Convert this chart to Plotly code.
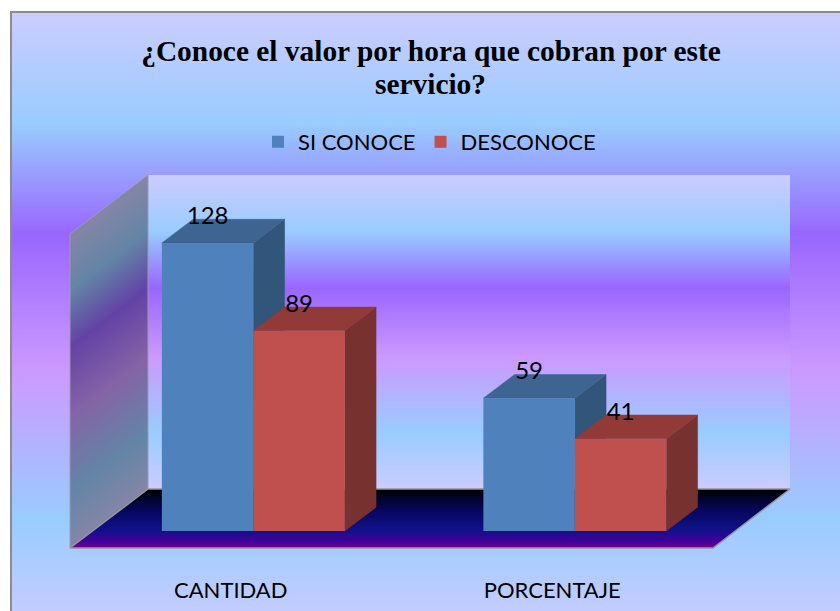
import numpy as np
import plotly.graph_objects as go

# ---------------------------------------------------------------------
# Data
# ---------------------------------------------------------------------
categories = ["CANTIDAD", "PORCENTAJE"]
si_conoce = [128, 59]
desconoce = [89, 41]
series_names = ["SI CONOCE", "DESCONOCE"]
title_lines = ["¿Conoce el valor por hora que cobran por este", "servicio?"]

front_colors = ["#4F81BD", "#C0504D"]
top_colors = ["#3E6591", "#913A37"]
side_colors = ["#32557A", "#773230"]

WIDTH, HEIGHT = 840, 611


# page pixels to axis units: one category = 321.5 px, one count = 2.25 px
def X(px):
    return (px - 230.75) / 321.5


def Y(py):
    return (548 - py) / 2.25


# oblique projection of the 3d box
DEPTH_X = X(148) - X(70)
DEPTH_Y = Y(489) - Y(548)
BAR_NEAR = 0.29
BAR_FAR = 0.69
BAR_W = 0.2846
LABEL_LIFT = 11.0

wall_scale = [
    [0.00, "#CCCCFF"],
    [0.18, "#99CCFF"],
    [0.36, "#9966FF"],
    [0.58, "#CC99FF"],
    [0.82, "#99CCFF"],
    [1.00, "#CCCCFF"],
]
shaded_scale = [
    [0.00, "#8585A6"],
    [0.18, "#6385A6"],
    [0.36, "#6342A6"],
    [0.58, "#8563A6"],
    [0.82, "#6385A6"],
    [1.00, "#8585A6"],
]
floor_scale = [
    [0.00, "#000000"],
    [0.35, "#06065C"],
    [0.70, "#10108C"],
    [0.90, "#460099"],
    [1.00, "#7A0090"],
]


def band(px_left, px_right, py_top, py_bottom, scale):
    edges = np.arange(py_top, py_bottom + 1)
    t = (edges[:-1] + 0.5 - py_top) / (py_bottom - py_top)
    return go.Heatmap(
        x=[X(px_left), X(px_right)],
        y=Y(edges),
        z=t.reshape(-1, 1),
        zmin=0,
        zmax=1,
        colorscale=scale,
        showscale=False,
        hoverinfo="skip",
    )


fig = go.Figure()

# chart area and back wall
fig.add_trace(band(10, 840, 12, 630, wall_scale))
fig.add_trace(band(148, 790, 175, 489, wall_scale))

# left wall, same gradient sheared along the depth direction
col_edges = np.arange(70, 149)
row_edges = np.arange(175, 549)
col_mid = col_edges[:-1] + 0.5
row_mid = row_edges[:-1] + 0.5
wall_top = 234 - (col_mid - 70) * 59 / 78
cols, rows = np.meshgrid(col_mid, row_mid)
wall_t = (rows - wall_top[None, :]) / 314
wall_t[(wall_t < 0) | (wall_t > 1)] = np.nan
fig.add_trace(
    go.Heatmap(
        x=X(col_edges),
        y=Y(row_edges),
        z=wall_t,
        zmin=0,
        zmax=1,
        colorscale=shaded_scale,
        showscale=False,
        hoverinfo="skip",
    )
)
fig.add_trace(
    go.Scatter(
        x=[X(70), X(148), X(148), X(70), X(70)],
        y=[Y(234), Y(175), Y(489), Y(548), Y(234)],
        mode="lines",
        line=dict(color="#9A9AB4", width=1),
        hoverinfo="skip",
        showlegend=False,
    )
)

# floor
fig.add_trace(
    go.Scatter(
        x=[X(148), X(790), X(713), X(70), X(148)],
        y=[Y(489), Y(489), Y(548), Y(548), Y(489)],
        mode="lines",
        line=dict(color="#959595", width=1.5),
        fill="toself",
        fillgradient=dict(
            type="vertical",
            colorscale=floor_scale,
            start=Y(489),
            stop=Y(548),
        ),
        hoverinfo="skip",
        showlegend=False,
    )
)

# top and side faces of the bars, blue first so red covers it
for j, values in enumerate([si_conoce, desconoce]):
    for i, value in enumerate(values):
        left = i + BAR_NEAR * DEPTH_X + (j - 1) * BAR_W
        right = left + BAR_W
        base = BAR_NEAR * DEPTH_Y
        top = base + value
        dx = (BAR_FAR - BAR_NEAR) * DEPTH_X
        dy = (BAR_FAR - BAR_NEAR) * DEPTH_Y
        fig.add_trace(
            go.Scatter(
                x=[right, right + dx, right + dx, right, right],
                y=[base, base + dy, top + dy, top, base],
                mode="lines",
                line=dict(color=side_colors[j], width=0.5),
                fill="toself",
                fillcolor=side_colors[j],
                hoverinfo="skip",
                showlegend=False,
            )
        )
        fig.add_trace(
            go.Scatter(
                x=[left, right, right + dx, left + dx, left],
                y=[top, top, top + dy, top + dy, top],
                mode="lines",
                line=dict(color=top_colors[j], width=0.5),
                fill="toself",
                fillcolor=top_colors[j],
                hoverinfo="skip",
                showlegend=False,
            )
        )

# front faces on an overlaid pair of axes so they sit above the faces
for j, values in enumerate([si_conoce, desconoce]):
    fig.add_trace(
        go.Bar(
            x=[i + BAR_NEAR * DEPTH_X for i in range(len(categories))],
            y=values,
            base=BAR_NEAR * DEPTH_Y,
            name=series_names[j],
            marker=dict(color=front_colors[j], line=dict(width=0)),
            xaxis="x2",
            yaxis="y2",
            hoverinfo="skip",
        )
    )
    fig.add_trace(
        go.Scatter(
            x=[i + BAR_NEAR * DEPTH_X + (j - 0.5) * BAR_W for i in range(len(categories))],
            y=[BAR_NEAR * DEPTH_Y + v + LABEL_LIFT for v in values],
            text=[str(v) for v in values],
            mode="text",
            textposition="middle center",
            textfont=dict(family="Lato", size=24, color="#000000"),
            xaxis="x2",
            yaxis="y2",
            hoverinfo="skip",
            showlegend=False,
        )
    )

x_range = [X(0), X(WIDTH)]
y_range = [Y(HEIGHT), Y(0)]

# two separate lines: the reference leads tighter than plotly's <br>
title_font = dict(family="Liberation Serif", size=29.4, color="#000000")

fig.update_layout(
    width=WIDTH,
    height=HEIGHT,
    margin=dict(l=0, r=0, t=0, b=0),
    paper_bgcolor="white",
    plot_bgcolor="white",
    barmode="group",
    bargap=1 - 2 * BAR_W,
    bargroupgap=0,
    title=dict(
        text="<b>" + title_lines[0] + "</b>",
        font=title_font,
        x=431 / WIDTH,
        xanchor="center",
        y=1 - 51 / HEIGHT,
        yanchor="middle",
    ),
    annotations=[
        dict(
            text="<b>" + title_lines[1] + "</b>",
            font=title_font,
            xref="paper",
            yref="paper",
            x=431 / WIDTH,
            y=1 - 84 / HEIGHT,
            xanchor="center",
            yanchor="middle",
            showarrow=False,
        )
    ],
    legend=dict(
        orientation="h",
        x=258 / WIDTH,
        y=1 - 142 / HEIGHT,
        xanchor="left",
        yanchor="middle",
        font=dict(family="Lato", size=22, color="#000000"),
        bgcolor="rgba(0,0,0,0)",
    ),
    xaxis=dict(
        range=x_range,
        tickvals=list(range(len(categories))),
        ticktext=categories,
        tickfont=dict(family="Lato", size=22, color="#000000"),
        ticks="",
        showgrid=False,
        zeroline=False,
        showline=False,
        anchor="free",
        position=(HEIGHT - 575) / HEIGHT,
    ),
    yaxis=dict(range=y_range, visible=False),
    xaxis2=dict(range=x_range, overlaying="x", visible=False),
    yaxis2=dict(range=y_range, overlaying="y", visible=False),
    shapes=[
        dict(type="line", xref="paper", yref="paper", x0=11 / WIDTH, x1=11 / WIDTH, y0=0, y1=1 - 11 / HEIGHT,
             line=dict(color="#8C8C8C", width=2)),
        dict(type="line", xref="paper", yref="paper", x0=10 / WIDTH, x1=1, y0=1 - 12 / HEIGHT, y1=1 - 12 / HEIGHT,
             line=dict(color="#8C8C8C", width=2)),
    ],
)

fig.write_html(
    "out.html",
    config={"displayModeBar": False},
    post_script="document.body.style.margin='0';",
)
